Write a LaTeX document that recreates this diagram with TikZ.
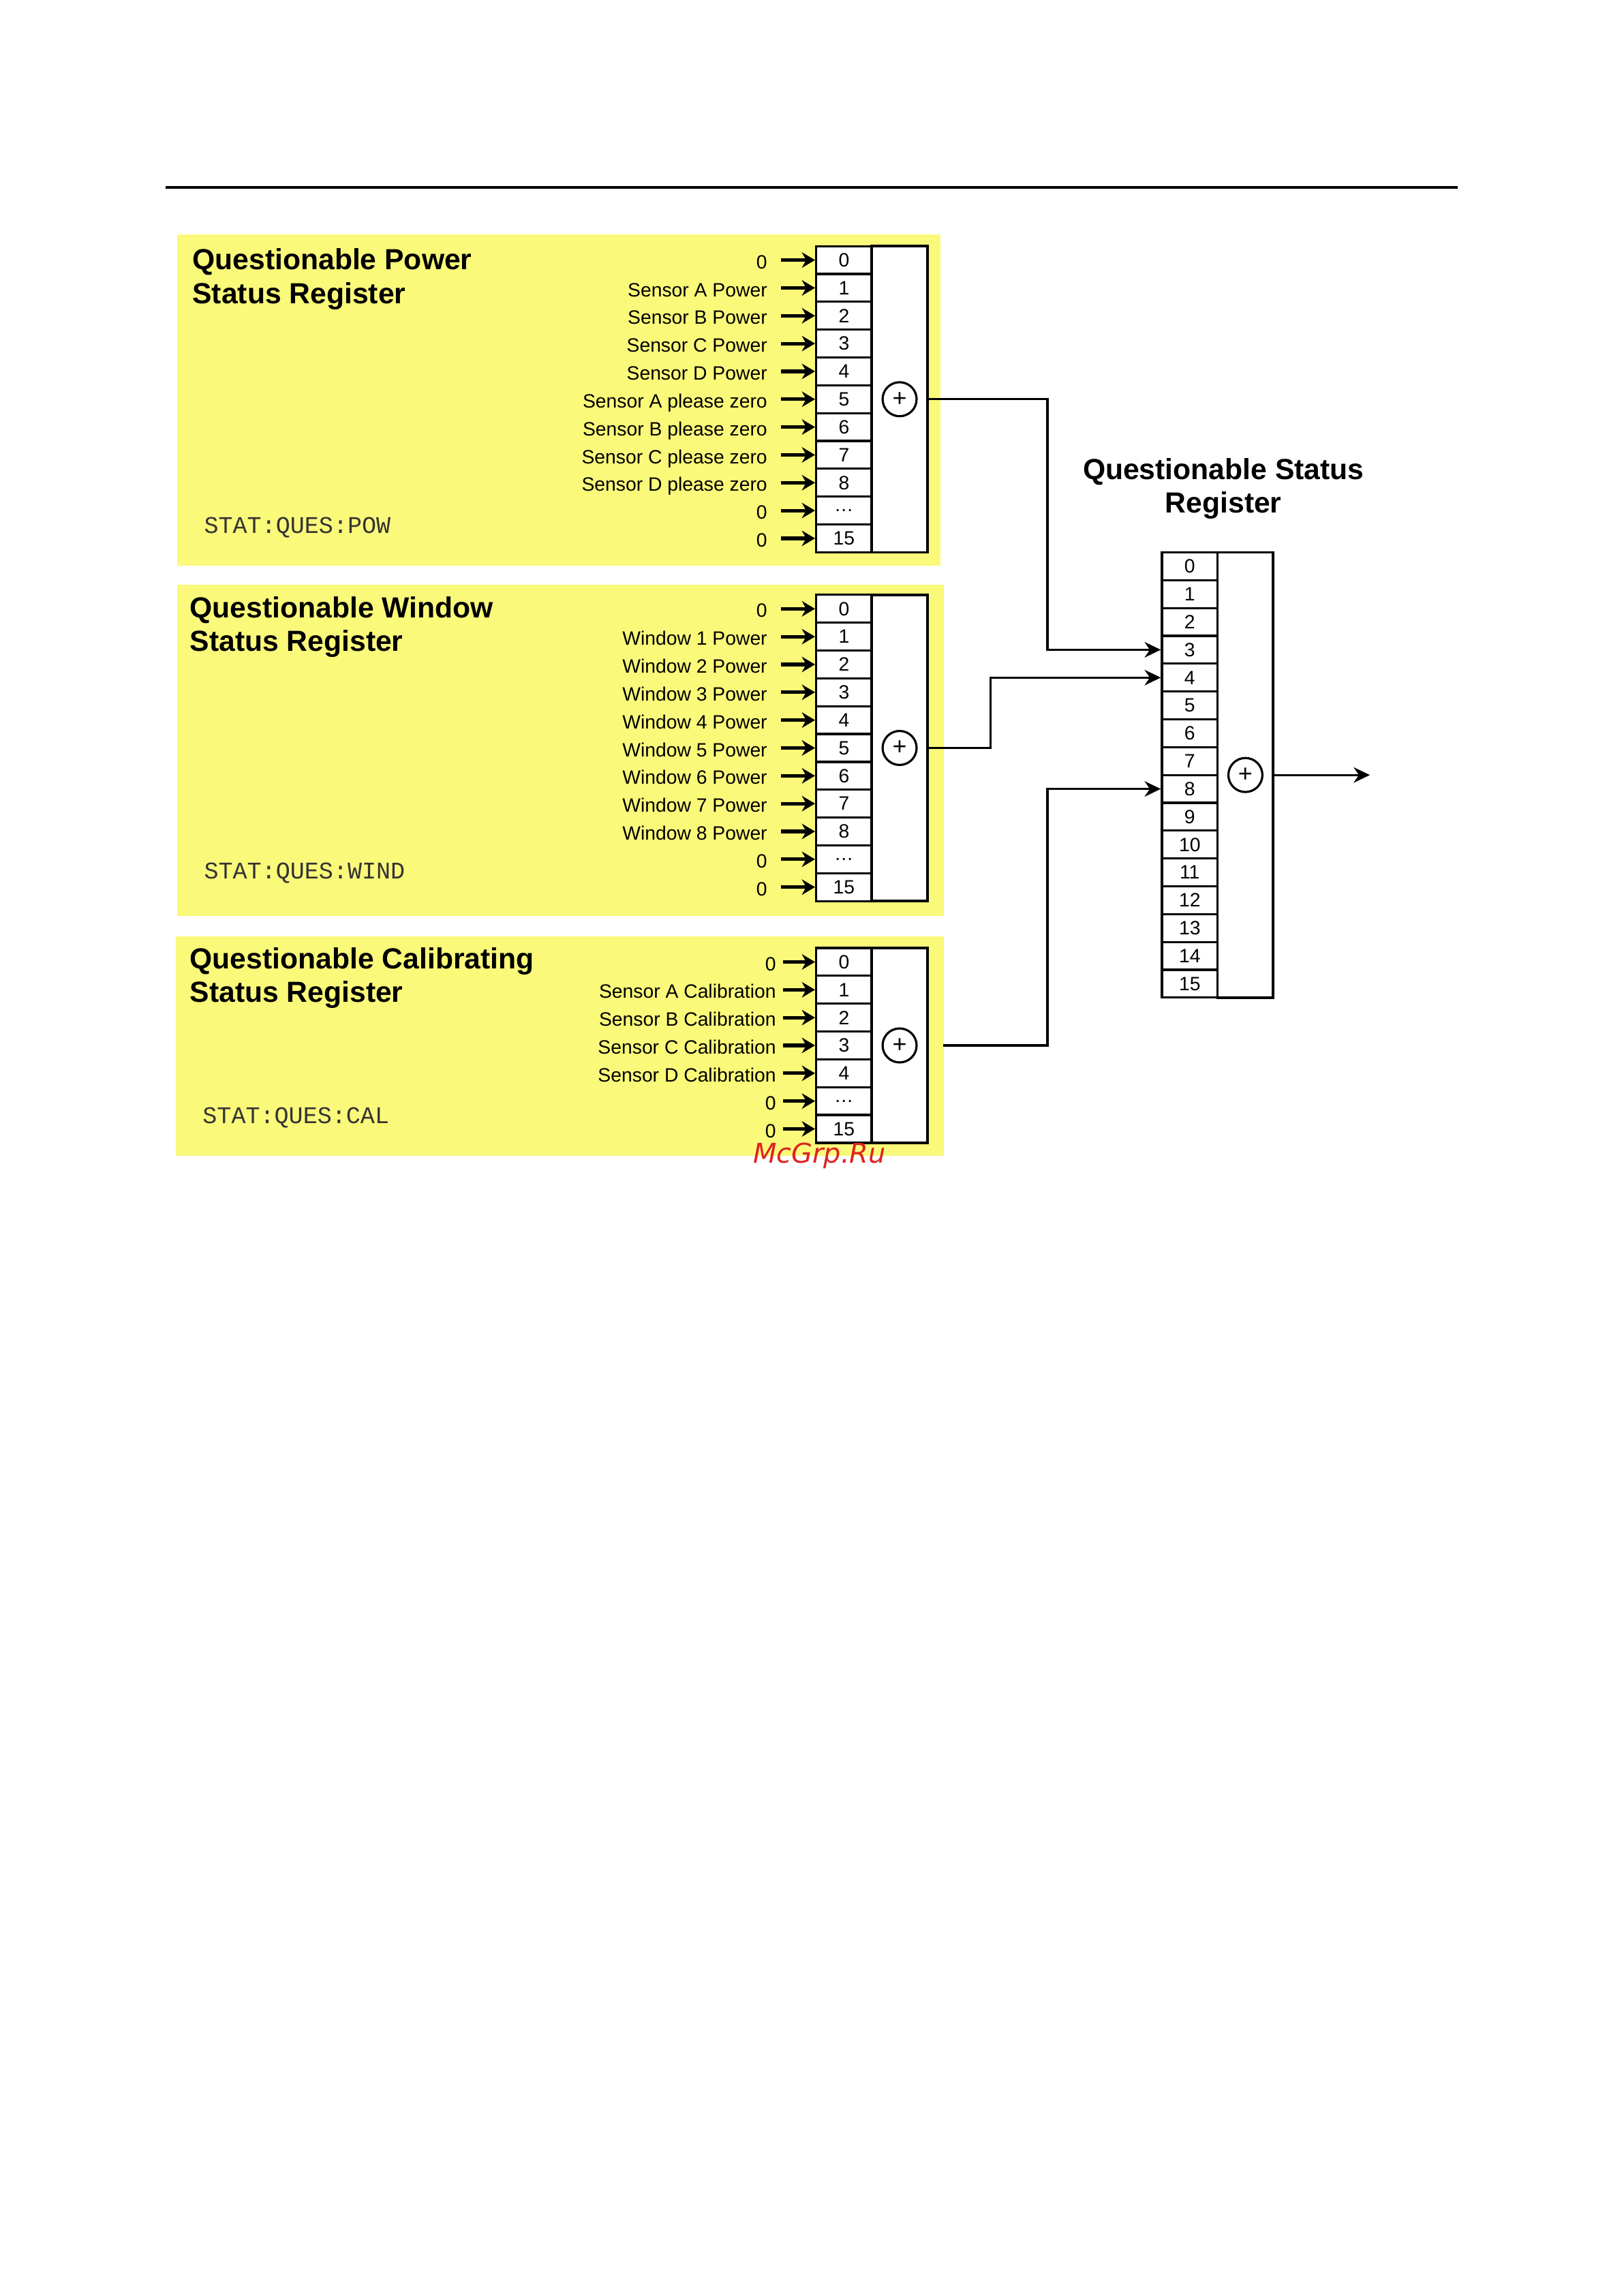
\documentclass[tikz,border=0pt]{standalone}
\usepackage{fontspec}
\setmainfont{Liberation Sans}
\newfontfamily\regmono{Liberation Mono}
\newfontfamily\wmfont{DejaVu Sans}
\usetikzlibrary{arrows.meta}
\definecolor{regyellow}{RGB}{250,249,122}
\definecolor{wmred}{RGB}{222,34,34}

\begin{document}
\begin{tikzpicture}[font=\fontsize{7.1}{8.5}\selectfont, >={Stealth[length=2.1mm,width=2mm]}]
    \tikzstyle{bit}=[draw, line width=0.8pt, fill=white, minimum width=0.72cm, minimum height=0.36cm, inner sep=0pt]
    \tikzstyle{sumcol}=[draw, line width=0.9pt, fill=white, minimum width=0.72cm, inner sep=0pt]
    \tikzstyle{orgate}=[draw, circle, line width=0.8pt, minimum size=0.44cm, inner sep=0pt, font=\fontsize{9}{9}\selectfont]
    \tikzstyle{inlabel}=[anchor=east, inner sep=0pt, text height=1.6ex, text depth=0.4ex]
    \tikzstyle{inarrow}=[line width=1.3pt, -{Stealth[length=1.7mm,width=2mm]}]
    \tikzstyle{link}=[line width=0.8pt, ->]
    \tikzstyle{title}=[anchor=west, align=left, inner sep=0pt, font=\fontsize{10.7}{12.4}\selectfont\bfseries]
    \tikzstyle{cmd}=[anchor=west, inner sep=0pt, text=black!80, font=\fontsize{8.8}{10}\selectfont\regmono]
    \useasboundingbox (0,0) rectangle (21,-29.7);
    \draw[line width=1.1pt] (2.14,-2.426) -- (18.86,-2.426);
    % yellow panels
    \fill[regyellow] (2.293,-3.033) rectangle (12.168,-7.316);
    \fill[regyellow] (2.293,-7.562) rectangle (12.206,-11.846);
    \fill[regyellow] (2.274,-12.111) rectangle (12.206,-14.954);
    % power register
    \node[title] (powtitle) at (2.483,-3.61) {Questionable Power\\Status Register};
    \node[cmd] (powcmd) at (2.634,-6.823) {STAT:QUES:POW};
    \foreach \b/\lab [count=\i from 0] in {0/0, 1/Sensor A Power, 2/Sensor B Power, 3/Sensor C Power, 4/Sensor D Power, 5/Sensor A please zero, 6/Sensor B please zero, 7/Sensor C please zero, 8/Sensor D please zero, \ldots/0, 15/0} {
        \node[bit] (pow\i) at (10.917,{-3.364-0.36*\i}) {\b};
        \node[inlabel] (powin\i) at (9.931,{-3.364-0.36*\i}) {\lab};
        \draw[inarrow, shorten <=0.17cm] (powin\i.east) -- (pow\i.west);
    }
    \node[sumcol, minimum height=3.96cm] (powsum) at (11.637,-5.164) {};
    \node[orgate] (powor) at (powsum) {+};
    % window register
    \node[title] (wintitle) at (2.45,-8.112) {Questionable Window\\Status Register};
    \node[cmd] (wincmd) at (2.634,-11.296) {STAT:QUES:WIND};
    \foreach \b/\lab [count=\i from 0] in {0/0, 1/Window 1 Power, 2/Window 2 Power, 3/Window 3 Power, 4/Window 4 Power, 5/Window 5 Power, 6/Window 6 Power, 7/Window 7 Power, 8/Window 8 Power, \ldots/0, 15/0} {
        \node[bit] (win\i) at (10.917,{-7.875-0.36*\i}) {\b};
        \node[inlabel] (winin\i) at (9.931,{-7.875-0.36*\i}) {\lab};
        \draw[inarrow, shorten <=0.17cm] (winin\i.east) -- (win\i.west);
    }
    \node[sumcol, minimum height=3.96cm] (winsum) at (11.637,-9.675) {};
    \node[orgate] (winor) at (winsum) {+};
    % calibrating register
    \node[title] (caltitle) at (2.45,-12.651) {Questionable Calibrating\\Status Register};
    \node[cmd] (calcmd) at (2.615,-14.461) {STAT:QUES:CAL};
    \foreach \b/\lab [count=\i from 0] in {0/0, 1/Sensor A Calibration, 2/Sensor B Calibration, 3/Sensor C Calibration, 4/Sensor D Calibration, \ldots/0, 15/0} {
        \node[bit] (cal\i) at (10.917,{-12.443-0.36*\i}) {\b};
        \node[inlabel] (calin\i) at (10.045,{-12.443-0.36*\i}) {\lab};
        \draw[inarrow, shorten <=0.08cm] (calin\i.east) -- (cal\i.west);
    }
    \node[sumcol, minimum height=2.52cm] (calsum) at (11.637,-13.523) {};
    \node[orgate] (calor) at (calsum) {+};
    % questionable status register
    \node[title, anchor=center, align=center] (questitle) at (15.826,-6.321) {Questionable Status\\Register};
    \foreach \i in {0,...,15} {
        \node[bit] (ques\i) at (15.39,{-7.325-0.36*\i}) {\i};
    }
    \node[sumcol, minimum height=5.76cm] (quessum) at (16.11,-10.025) {};
    \node[orgate] (quesor) at (quessum) {+};
    % summary links
    \coordinate (powbend) at (13.55,-6);
    \coordinate (winbend) at (12.81,-9);
    \coordinate (calbend) at (13.55,-12);
    \coordinate (quesout) at (17.72,-10.025);
    \draw[link] (powsum.east) -| (powbend) |- (ques3.west);
    \draw[link] (winsum.east) -| (winbend) |- (ques4.west);
    \draw[link, shorten <=0.19cm] (calsum.east) -| (calbend) |- (ques8.west);
    \draw[link] (quessum.east) -- (quesout);
    \node[text=wmred, font=\fontsize{10}{12}\selectfont\wmfont\itshape] (mark) at (10.6,-14.95) {McGrp.Ru};
\end{tikzpicture}
\end{document}
